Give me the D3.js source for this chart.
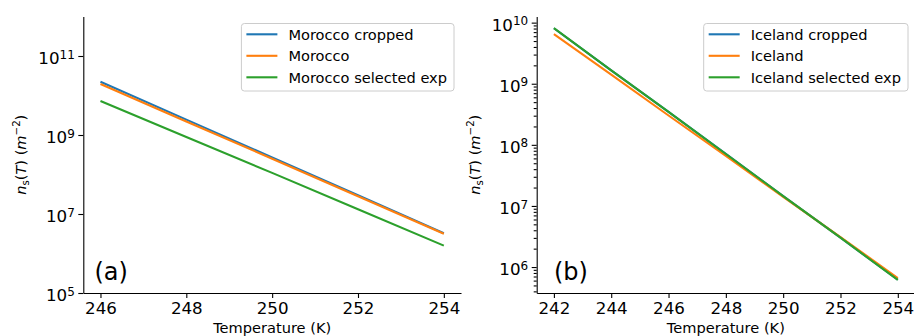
<!DOCTYPE html>
<html>
<head>
<meta charset="utf-8">
<script src="https://cdn.jsdelivr.net/npm/d3@7"></script>
<style>
  body { margin: 0; background: #fff; }
  svg text { font-family: "DejaVu Sans", sans-serif; fill: #000; }
</style>
</head>
<body>
<svg id="chart" width="914" height="336"></svg>
<script>
// ---- data ----
const moroccoTemps = [246, 248, 250, 252, 254];
const moroccoCropped = [2.24e10, 2.45e9, 2.69e8, 3.0e7, 3.24e6];
const moroccoAll = [1.95e10, 2.19e9, 2.51e8, 2.82e7, 3.16e6];
const moroccoSelected = [7.24e9, 8.91e8, 1.10e8, 1.32e7, 1.58e6];
const moroccoXTicks = [246, 248, 250, 252, 254];
const moroccoYTicks = [1e5, 1e7, 1e9, 1e11];

const icelandTemps = [242, 244, 246, 248, 250, 252, 254];
const icelandCropped = [8.1e9, 1.66e9, 3.47e8, 7.1e7, 1.45e7, 3.02e6, 6.2e5];
const icelandAll = [6.46e9, 1.41e9, 3.02e8, 6.61e7, 1.41e7, 3.09e6, 6.61e5];
const icelandSelected = [8.13e9, 1.66e9, 3.47e8, 7.08e7, 1.45e7, 3.02e6, 6.17e5];
const icelandXTicks = [242, 244, 246, 248, 250, 252, 254];
const icelandYTicks = [1e6, 1e7, 1e8, 1e9, 1e10];

const colors = ["#1f77b4", "#ff7f0e", "#2ca02c"];

const svg = d3.select("#chart");
const top_ = 16.5, bottom = 293;

function drawPanel(p) {
    const g = svg.append("g");
    const x = d3.scaleLinear().domain(p.xDomain).range([p.left, p.right]);
    const y = d3.scaleLog().domain(p.yDomain).range([bottom, top_]);

    const line = d3.line().x(d => x(d[0])).y(d => y(d[1]));
    p.series.forEach((s, i) => {
        g.append("path")
            .datum(d3.zip(p.temps, s.values))
            .attr("d", line)
            .attr("fill", "none")
            .attr("stroke", colors[i])
            .attr("stroke-width", 2.1);
    });

    // x axis
    const xAxis = g.append("g")
        .attr("transform", `translate(0,${bottom})`)
        .call(d3.axisBottom(x).tickValues(p.xTicks).tickSize(5).tickPadding(4)
            .tickSizeOuter(0).tickFormat(d3.format("d")));
    xAxis.selectAll("text").style("font-size", "16.7px");

    // minor y ticks
    if (p.yMinor.length) {
        const minor = g.append("g")
            .attr("transform", `translate(${p.left},0)`)
            .call(d3.axisLeft(y).tickValues(p.yMinor).tickSize(3).tickFormat(""));
        minor.select(".domain").remove();
    }

    // y axis
    const yAxis = g.append("g")
        .attr("transform", `translate(${p.left},0)`)
        .call(d3.axisLeft(y).tickValues(p.yTicks).tickSize(5).tickSizeOuter(0).tickFormat(""));
    yAxis.selectAll(".tick text").remove();
    yAxis.selectAll(".tick").each(function (d) {
        const t = d3.select(this).append("text")
            .attr("x", -8.5)
            .attr("y", 7.6)
            .attr("text-anchor", "end")
            .style("font-size", "16.7px");
        t.append("tspan").text("10");
        t.append("tspan")
            .attr("dy", -5.5)
            .style("font-size", "12px")
            .text(Math.round(Math.log10(d)));
    });

    g.selectAll(".domain, .tick line").attr("stroke", "#000").attr("stroke-width", 1.1);

    // axis labels
    g.append("text")
        .attr("x", (p.left + p.right) / 2)
        .attr("y", 333)
        .attr("text-anchor", "middle")
        .style("font-size", "14.6px")
        .text("Temperature (K)");

    const yl = g.append("text")
        .attr("transform", `translate(${p.left - 57},${(top_ + bottom) / 2}) rotate(-90)`)
        .attr("text-anchor", "middle")
        .style("font-size", "14.6px");
    yl.append("tspan").style("font-style", "italic").text("n");
    yl.append("tspan").attr("dy", 3).style("font-size", "10.2px").text("s");
    yl.append("tspan").attr("dy", -3).text("(");
    yl.append("tspan").style("font-style", "italic").text("T");
    yl.append("tspan").text(") (");
    yl.append("tspan").style("font-style", "italic").text("m");
    yl.append("tspan").attr("dy", -6).style("font-size", "10.2px").text("\u22122");
    yl.append("tspan").attr("dy", 6).text(")");

    // panel label
    g.append("text")
        .attr("x", x(p.tagX))
        .attr("y", 280)
        .style("font-size", "24px")
        .text(p.tag);

    // legend
    const lg = g.append("g");
    const box = lg.append("rect");
    const rows = lg.selectAll("g.row")
        .data(p.series)
        .join("g")
        .attr("class", "row")
        .attr("transform", (d, i) => `translate(0,${10.8 + i * 21.5})`);
    rows.append("line")
        .attr("x1", 5).attr("x2", 36)
        .attr("stroke", (d, i) => colors[i])
        .attr("stroke-width", 2.1);
    rows.append("text")
        .attr("x", 47)
        .attr("y", 5.2)
        .style("font-size", "14.6px")
        .text(d => d.name);
    let maxLen = 0;
    rows.selectAll("text").each(function () {
        maxLen = Math.max(maxLen, this.getComputedTextLength());
    });
    const w = 47 + maxLen + 7, h = 67.5;
    box.attr("width", w).attr("height", h)
        .attr("rx", 3)
        .attr("fill", "#fff").attr("fill-opacity", 0.8)
        .attr("stroke", "#cccccc").attr("stroke-width", 1);
    lg.attr("transform", `translate(${p.right - 7 - w},${top_ + 7})`);
}

drawPanel({
    left: 83.3, right: 461,
    xDomain: [245.6, 254.4], yDomain: [1e5, 1e12],
    temps: moroccoTemps,
    xTicks: moroccoXTicks, yTicks: moroccoYTicks, yMinor: [],
    series: [
        { name: "Morocco cropped", values: moroccoCropped },
        { name: "Morocco", values: moroccoAll },
        { name: "Morocco selected exp", values: moroccoSelected }
    ],
    tag: "(a)", tagX: 245.86
});

const icelandMinor = [];
for (let e = 5; e <= 10; e++) {
    for (let k = 2; k <= 9; k++) {
        const v = k * Math.pow(10, e);
        if (v > 3.76e5 && v < 1.26e10) icelandMinor.push(v);
    }
}

drawPanel({
    left: 536.7, right: 915,
    xDomain: [241.4, 254.6], yDomain: [3.76e5, 1.26e10],
    temps: icelandTemps,
    xTicks: icelandXTicks, yTicks: icelandYTicks, yMinor: icelandMinor,
    series: [
        { name: "Iceland cropped", values: icelandCropped },
        { name: "Iceland", values: icelandAll },
        { name: "Iceland selected exp", values: icelandSelected }
    ],
    tag: "(b)", tagX: 242
});
</script>
</body>
</html>
